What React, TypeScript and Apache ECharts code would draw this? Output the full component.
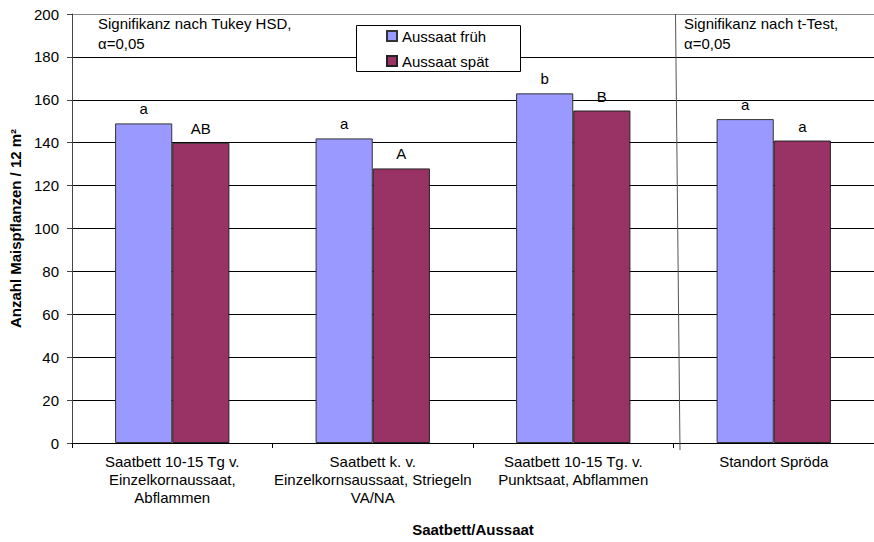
import React, { useEffect, useRef } from "react";
import * as echarts from "echarts";

const categories = [
  "Saatbett 10-15 Tg v.\nEinzelkornaussaat,\nAbflammen",
  "Saatbett k. v.\nEinzelkornsaussaat, Striegeln\nVA/NA",
  "Saatbett 10-15 Tg. v.\nPunktsaat, Abflammen",
  "Standort Spröda",
];
const seriesNames = ["Aussaat früh", "Aussaat spät"];
const frueh = [149, 142, 163, 151];
const spaet = [140, 128, 155, 141];
const fruehLetters = ["a", "a", "b", "a"];
const spaetLetters = ["AB", "A", "B", "a"];
const yTicks = { min: 0, max: 200, interval: 20 };

const FONT = "Liberation Sans, Arial, sans-serif";
const FS = 15;

export default function App() {
  const ref = useRef<HTMLDivElement>(null);
  useEffect(() => {
    if (!ref.current) return;
    const chart = echarts.init(ref.current, undefined, { renderer: "svg" });
    const gridColors = Array.from({ length: 11 }, (_, i) => (i === 10 ? "#8a8a8a" : "#000"));
    chart.setOption({
      animation: false,
      backgroundColor: "#fff",
      textStyle: { fontFamily: FONT },
      grid: { left: 71, top: 14, width: 812, height: 436 },
      legend: {
        orient: "vertical",
        left: 386,
        top: 28,
        padding: 0,
        itemGap: 9,
        itemWidth: 10,
        itemHeight: 10,
        textStyle: { fontFamily: FONT, fontSize: FS, color: "#000", lineHeight: 16 },
        data: seriesNames.map((n) => ({ name: n, icon: "rect" })),
        z: 10,
      },
      xAxis: {
        type: "category",
        data: categories,
        name: "Saatbett/Aussaat",
        nameLocation: "middle",
        nameGap: 79,
        nameTextStyle: { fontFamily: FONT, fontSize: FS, fontWeight: "bold", color: "#000" },
        axisLine: { lineStyle: { color: "#000", width: 1 } },
        axisTick: { show: true, alignWithLabel: false, length: 5, lineStyle: { color: "#000" } },
        axisLabel: {
          interval: 0,
          margin: 9,
          fontFamily: FONT,
          fontSize: FS,
          color: "#000",
          lineHeight: 18,
          align: "center",
        },
      },
      yAxis: {
        type: "value",
        min: yTicks.min,
        max: yTicks.max,
        interval: yTicks.interval,
        name: "Anzahl Maispflanzen / 12 m²",
        nameLocation: "middle",
        nameGap: 49,
        nameTextStyle: { fontFamily: FONT, fontSize: FS, fontWeight: "bold", color: "#000" },
        axisLine: { show: true, lineStyle: { color: "#444", width: 1 } },
        axisTick: { show: true, length: 5, lineStyle: { color: "#444" } },
        axisLabel: { fontFamily: FONT, fontSize: FS, color: "#000", margin: 13 },
        splitLine: { show: true, lineStyle: { color: gridColors, width: 1 } },
      },
      graphic: [
        {
          type: "rect",
          shape: { x: 356.5, y: 25.5, width: 164, height: 46 },
          style: { fill: "#fff", stroke: "#000", lineWidth: 1 },
          z: 5,
        },
        {
          type: "text",
          left: 98,
          top: 13,
          style: {
            text: "Signifikanz nach Tukey HSD,\nα=0,05",
            font: `${FS}px ${FONT}`,
            fill: "#000",
            lineHeight: 20,
          },
          z: 20,
        },
        {
          type: "text",
          left: 684,
          top: 13,
          style: {
            text: "Signifikanz nach t-Test,\nα=0,05",
            font: `${FS}px ${FONT}`,
            fill: "#000",
            lineHeight: 20,
          },
          z: 20,
        },
        {
          type: "line",
          shape: { x1: 675.5, y1: 14, x2: 680, y2: 450 },
          style: { stroke: "#555", lineWidth: 1 },
          z: 20,
        },
      ],
      series: [
        {
          name: seriesNames[0],
          type: "bar",
          data: frueh,
          barGap: "0%",
          barCategoryGap: "43%",
          itemStyle: { color: "#9999FF", borderColor: "#333", borderWidth: 1 },
          label: {
            show: true,
            position: "top",
            distance: 7,
            fontFamily: FONT,
            fontSize: FS,
            color: "#000",
            formatter: (p: any) => fruehLetters[p.dataIndex],
          },
        },
        {
          name: seriesNames[1],
          type: "bar",
          data: spaet,
          itemStyle: { color: "#993366", borderColor: "#222", borderWidth: 1 },
          label: {
            show: true,
            position: "top",
            distance: 7,
            fontFamily: FONT,
            fontSize: FS,
            color: "#000",
            formatter: (p: any) => spaetLetters[p.dataIndex],
          },
        },
      ],
    });
    return () => chart.dispose();
  }, []);
  return (
    <div
      ref={ref}
      style={{ position: "fixed", left: 0, top: 0, width: 874, height: 542, background: "#fff" }}
    />
  );
}
